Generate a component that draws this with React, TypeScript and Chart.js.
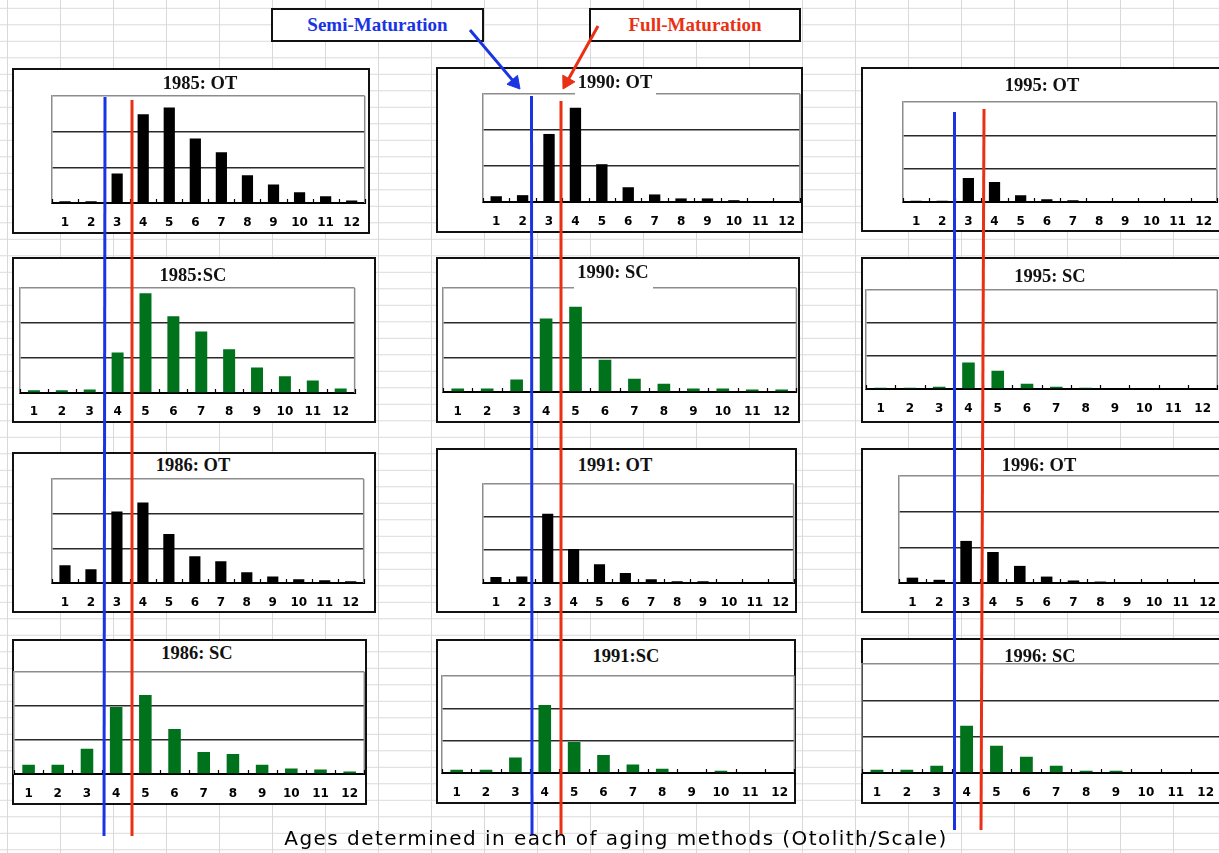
import React, { useEffect, useRef } from "react";
import { Chart, registerables } from "chart.js";

Chart.register(...registerables);

// ---- data -----------------------------------------------------------------
const AGES = ["1", "2", "3", "4", "5", "6", "7", "8", "9", "10", "11", "12"];

// Abundance by age class; each panel's gridlines sit at 10 and 20, frame top at 30.
const OT_1985 = [0.5, 0.5, 8.3, 24.9, 26.8, 18.1, 14.2, 7.8, 5.2, 3.0, 1.9, 0.7];
const SC_1985 = [0.8, 0.8, 1.0, 11.6, 28.5, 21.9, 17.6, 12.5, 7.3, 4.8, 3.6, 1.3];
const OT_1986 = [5.1, 4.0, 20.6, 23.2, 14.1, 7.7, 6.3, 3.1, 1.9, 1.1, 0.8, 0.5];
const SC_1986 = [2.7, 2.7, 7.4, 19.7, 23.2, 13.2, 6.5, 5.9, 2.7, 1.6, 1.3, 0.7];
const OT_1990 = [1.6, 1.9, 18.9, 26.2, 10.5, 4.1, 2.1, 1.0, 1.0, 0.5, 0, 0];
const SC_1990 = [1.0, 1.0, 3.6, 21.2, 24.6, 9.3, 3.8, 2.4, 1.0, 1.0, 0.7, 0.7];
const OT_1991 = [1.8, 2.0, 21.0, 10.3, 5.7, 3.0, 1.1, 0.5, 0.5, 0, 0, 0];
const SC_1991 = [1.0, 1.0, 4.8, 21.0, 9.6, 5.6, 2.6, 1.3, 0, 0.7, 0, 0];
const OT_1995 = [0.4, 0.4, 7.2, 6.0, 2.0, 0.8, 0.5, 0, 0, 0, 0, 0];
const SC_1995 = [0.4, 0.4, 0.7, 8.0, 5.5, 1.6, 0.7, 0.4, 0, 0, 0, 0];
const OT_1996 = [1.5, 0.9, 11.8, 8.7, 4.8, 1.8, 0.7, 0.4, 0, 0, 0, 0];
const SC_1996 = [0.9, 0.9, 2.0, 13.0, 7.5, 4.5, 2.0, 0.6, 0.6, 0, 0, 0];

const Y_MAX = 30;
const Y_STEP = 10;

const SEMI_LABEL = "Semi-Maturation";
const FULL_LABEL = "Full-Maturation";
const CAPTION = "Ages determined in each of aging methods (Otolith/Scale)";

// ---- styles ---------------------------------------------------------------
const PAGE_W = 1219;
const PAGE_H = 853;
const OT_COLOR = "#000000";
const SC_COLOR = "#00721c";
const SEMI_COLOR = "#1a34e4";
const FULL_COLOR = "#ea3014";
const TITLE_FONT = "bold 18.5px 'Liberation Serif', 'Times New Roman', serif";
const TICK_FONT_FAMILY = "'DejaVu Sans', 'Liberation Sans', sans-serif";

type Rect = [number, number, number, number];

interface PanelSpec {
  title: string;
  values: number[];
  color: string;
  box: Rect; // left, top, right, bottom of the framed panel
  plot: Rect; // left, top, right, axis line
  labelY: number;
  titleAt: [number, number];
  titleMask?: Rect;
}

// ---- panel layout ---------------------------------------------------------
const PANELS: PanelSpec[] = [
  { title: "1985: OT", values: OT_1985, color: OT_COLOR, box: [12, 68, 370, 234], plot: [52, 96, 369, 203], labelY: 223, titleAt: [200, 83] },
  { title: "1990: OT", values: OT_1990, color: OT_COLOR, box: [436, 67, 803, 233], plot: [483, 94, 804, 202], labelY: 222, titleAt: [615, 82], titleMask: [575, 69, 656, 96] },
  { title: "1995: OT", values: OT_1995, color: OT_COLOR, box: [861, 67, 1232, 232], plot: [903, 102, 1221, 202], labelY: 222, titleAt: [1042, 85] },
  { title: "1985:SC", values: SC_1985, color: SC_COLOR, box: [12, 257, 376, 423], plot: [20, 288, 357, 393], labelY: 412, titleAt: [193, 275] },
  { title: "1990: SC", values: SC_1990, color: SC_COLOR, box: [436, 257, 800, 423], plot: [443, 288, 799, 392], labelY: 412, titleAt: [613, 272], titleMask: [574, 259, 653, 290] },
  { title: "1995: SC", values: SC_1995, color: SC_COLOR, box: [861, 257, 1232, 423], plot: [866, 290, 1220, 389], labelY: 409, titleAt: [1050, 276] },
  { title: "1986: OT", values: OT_1986, color: OT_COLOR, box: [12, 452, 376, 613], plot: [52, 479, 368, 583], labelY: 603, titleAt: [193, 465] },
  { title: "1991: OT", values: OT_1991, color: OT_COLOR, box: [436, 448, 797, 613], plot: [483, 484, 798, 583], labelY: 603, titleAt: [615, 465] },
  { title: "1996: OT", values: OT_1996, color: OT_COLOR, box: [861, 448, 1232, 613], plot: [899, 476, 1225, 583], labelY: 603, titleAt: [1039, 465] },
  { title: "1986: SC", values: SC_1986, color: SC_COLOR, box: [12, 639, 367, 805], plot: [14, 672, 367, 774], labelY: 794, titleAt: [197, 653] },
  { title: "1991:SC", values: SC_1991, color: SC_COLOR, box: [436, 639, 796, 804], plot: [442, 676, 797, 773], labelY: 793, titleAt: [626, 656] },
  { title: "1996: SC", values: SC_1996, color: SC_COLOR, box: [861, 638, 1232, 804], plot: [862, 664, 1223, 773], labelY: 793, titleAt: [1040, 656] },
];

// Maturation guide lines running down each column (page space)
const GUIDES: { color: string; from: [number, number]; to: [number, number] }[] = [
  { color: SEMI_COLOR, from: [105, 97], to: [104, 836] },
  { color: FULL_COLOR, from: [132, 100], to: [132, 836] },
  { color: SEMI_COLOR, from: [531.5, 96], to: [532, 835] },
  { color: FULL_COLOR, from: [561, 101], to: [561, 835] },
  { color: SEMI_COLOR, from: [954.5, 112], to: [954.5, 830] },
  { color: FULL_COLOR, from: [984, 109], to: [981, 830] },
];

const ARROWS: { color: string; from: [number, number]; tip: [number, number] }[] = [
  { color: SEMI_COLOR, from: [470, 30], tip: [520, 89] },
  { color: FULL_COLOR, from: [598, 26], tip: [563, 89] },
];

// Frame pieces Chart.js does not draw itself: gray right edge and inner tick marks.
const panelFrame = {
  id: "panelFrame",
  afterDraw(chart: any) {
    const { ctx, chartArea } = chart;
    const { right, top, bottom } = chartArea;
    ctx.save();
    ctx.strokeStyle = "#8c8c8c";
    ctx.lineWidth = 1.5;
    ctx.beginPath();
    ctx.moveTo(right, top);
    ctx.lineTo(right, bottom);
    ctx.stroke();
    const xScale = chart.scales.x;
    const n = chart.data.labels.length;
    ctx.strokeStyle = "#000";
    ctx.lineWidth = 1.2;
    ctx.beginPath();
    for (let i = 0; i <= n; i++) {
      const x = Math.round(xScale.getPixelForValue(i - 0.5)) + 0.5;
      ctx.moveTo(x, bottom - 4);
      ctx.lineTo(x, bottom + 1);
    }
    ctx.stroke();
    ctx.restore();
  },
};

function Panel({ spec }: { spec: PanelSpec }) {
  const ref = useRef<HTMLCanvasElement>(null);
  const [L, T, R, A] = spec.plot;
  const pad = 4;
  const cLeft = L - pad;
  const cTop = T - pad;
  const cWidth = R - L + pad * 2;
  const cBottom = spec.box[3] - 2;
  const cHeight = cBottom - cTop;
  const axisH = cBottom - A;

  useEffect(() => {
    if (!ref.current) return;
    const chart = new Chart(ref.current, {
      type: "bar",
      data: {
        labels: AGES,
        datasets: [
          {
            data: spec.values,
            backgroundColor: spec.color,
            borderWidth: 0,
            barPercentage: 0.43,
            categoryPercentage: 1,
          },
        ],
      },
      options: {
        responsive: false,
        animation: false,
        devicePixelRatio: 1,
        events: [],
        layout: { autoPadding: false, padding: { left: pad, top: pad, right: pad, bottom: 0 } },
        plugins: { legend: { display: false }, tooltip: { enabled: false }, title: { display: false } },
        scales: {
          x: {
            type: "category",
            offset: true,
            grid: { display: false, drawTicks: false, tickLength: 0 },
            border: { display: true, color: "#000", width: 2 },
            ticks: {
              color: "#000",
              font: { family: TICK_FONT_FAMILY, size: 12, weight: "bold" },
              padding: spec.labelY - A - 7.2,
              autoSkip: false,
              maxRotation: 0,
              minRotation: 0,
            },
            afterFit: (s: any) => {
              s.height = axisH;
            },
          },
          y: {
            min: 0,
            max: Y_MAX,
            ticks: { display: false, stepSize: Y_STEP },
            grid: {
              drawTicks: false,
              lineWidth: 1.5,
              color: (c: any) =>
                c.tick && c.tick.value === Y_MAX ? "#8c8c8c" : c.tick && c.tick.value === 0 ? "rgba(0,0,0,0)" : "#2a2a2a",
            },
            border: { display: true, color: "#8c8c8c", width: 1.5 },
            afterFit: (s: any) => {
              s.width = 0;
            },
          },
        },
      } as any,
      plugins: [panelFrame],
    });
    return () => chart.destroy();
  }, []);

  const [bl, bt, br, bb] = spec.box;
  return (
    <>
      <div
        style={{
          position: "absolute",
          left: bl,
          top: bt,
          width: br - bl,
          height: bb - bt,
          boxSizing: "border-box",
          border: "2px solid #111",
          background: "#fff",
          zIndex: 1,
        }}
      />
      <canvas
        ref={ref}
        width={cWidth}
        height={cHeight}
        style={{ position: "absolute", left: cLeft, top: cTop, width: cWidth, height: cHeight, zIndex: 2 }}
      />
      {spec.titleMask && (
        <div
          style={{
            position: "absolute",
            left: spec.titleMask[0],
            top: spec.titleMask[1],
            width: spec.titleMask[2] - spec.titleMask[0],
            height: spec.titleMask[3] - spec.titleMask[1],
            background: "#fff",
            zIndex: 3,
          }}
        />
      )}
      <div
        style={{
          position: "absolute",
          left: spec.titleAt[0],
          top: spec.titleAt[1],
          transform: "translate(-50%, -50%)",
          font: TITLE_FONT,
          lineHeight: 1,
          color: "#111",
          whiteSpace: "nowrap",
          zIndex: 4,
        }}
      >
        {spec.title}
      </div>
    </>
  );
}

function Overlay() {
  const ref = useRef<HTMLCanvasElement>(null);
  useEffect(() => {
    if (!ref.current) return;
    const headR = 8;
    const guideSets = GUIDES.map((g) => ({
      data: [
        { x: g.from[0], y: g.from[1] },
        { x: g.to[0], y: g.to[1] },
      ],
      showLine: true,
      borderColor: g.color,
      borderWidth: 3,
      pointRadius: 0,
    }));
    const arrowSets = ARROWS.map((a) => {
      const dx = a.tip[0] - a.from[0];
      const dy = a.tip[1] - a.from[1];
      const len = Math.hypot(dx, dy);
      const hx = a.tip[0] - (dx / len) * headR;
      const hy = a.tip[1] - (dy / len) * headR;
      const rot = (Math.atan2(dx, -dy) * 180) / Math.PI;
      return {
        data: [
          { x: a.from[0], y: a.from[1] },
          { x: hx, y: hy },
        ],
        showLine: true,
        borderColor: a.color,
        borderWidth: 3,
        pointStyle: "triangle",
        pointRadius: [0, headR],
        pointRotation: [0, rot],
        pointBackgroundColor: a.color,
        pointBorderColor: a.color,
        pointBorderWidth: 1,
      };
    });
    const chart = new Chart(ref.current, {
      type: "scatter",
      data: { datasets: [...guideSets, ...arrowSets] as any },
      options: {
        responsive: false,
        animation: false,
        devicePixelRatio: 1,
        events: [],
        layout: { autoPadding: false, padding: 0 },
        plugins: { legend: { display: false }, tooltip: { enabled: false } },
        scales: {
          x: { type: "linear", min: 0, max: PAGE_W, display: false },
          y: { type: "linear", min: 0, max: PAGE_H, reverse: true, display: false },
        },
      } as any,
    });
    return () => chart.destroy();
  }, []);
  return (
    <canvas
      ref={ref}
      width={PAGE_W}
      height={PAGE_H}
      style={{ position: "absolute", left: 0, top: 0, width: PAGE_W, height: PAGE_H, zIndex: 6, pointerEvents: "none" }}
    />
  );
}

function LabelBox({ text, color, left, top, width, height }: { text: string; color: string; left: number; top: number; width: number; height: number }) {
  return (
    <div
      style={{
        position: "absolute",
        left,
        top,
        width,
        height,
        boxSizing: "border-box",
        border: "2px solid #111",
        background: "#fff",
        color,
        font: "bold 19px 'Liberation Serif', 'Times New Roman', serif",
        lineHeight: `${height - 4}px`,
        textAlign: "center",
        whiteSpace: "nowrap",
        zIndex: 5,
      }}
    >
      {text}
    </div>
  );
}

export default function App() {
  useEffect(() => {
    document.body.style.margin = "0";
  }, []);
  return (
    <div
      style={{
        position: "fixed",
        left: 0,
        top: 0,
        width: PAGE_W,
        height: PAGE_H,
        overflow: "hidden",
        backgroundColor: "#fff",
        backgroundImage:
          "linear-gradient(to right, #d9d9d9 1px, transparent 1px), linear-gradient(to bottom, #d9d9d9 1px, transparent 1px)",
        backgroundSize: "53px 16.5px",
        backgroundPosition: "7px 7.8px",
      }}
    >
      {PANELS.map((p) => (
        <Panel key={p.title} spec={p} />
      ))}
      <LabelBox text={SEMI_LABEL} color={SEMI_COLOR} left={271} top={8} width={213} height={34} />
      <LabelBox text={FULL_LABEL} color={FULL_COLOR} left={589} top={8} width={212} height={34} />
      <Overlay />
      <div
        style={{
          position: "absolute",
          left: 616,
          top: 838,
          transform: "translate(-50%, -50%)",
          font: `20px ${TICK_FONT_FAMILY}`,
          letterSpacing: "1.45px",
          color: "#000",
          whiteSpace: "nowrap",
          lineHeight: 1,
          zIndex: 7,
        }}
      >
        {CAPTION}
      </div>
    </div>
  );
}
